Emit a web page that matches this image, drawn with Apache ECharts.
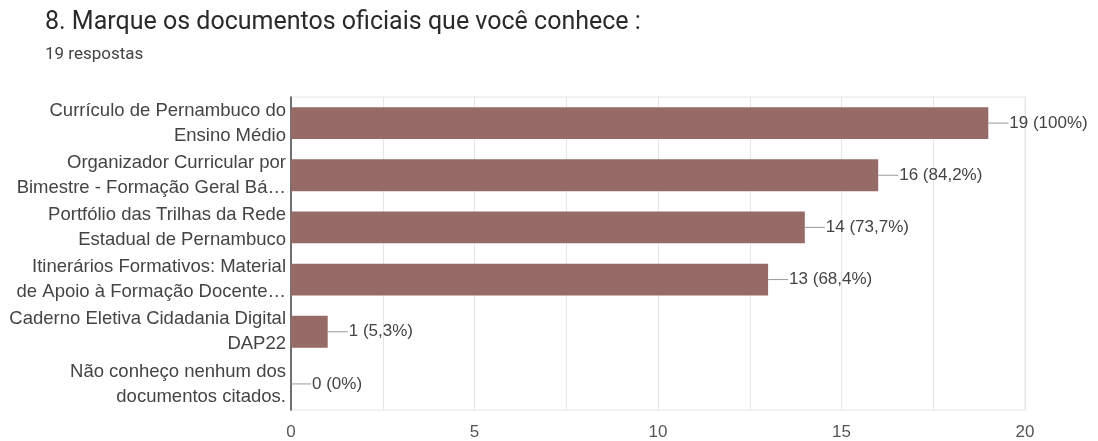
<!DOCTYPE html>
<html>
<head>
<meta charset="utf-8">
<script src="https://cdn.jsdelivr.net/npm/echarts@6/dist/echarts.min.js"></script>
<style>
html,body{margin:0;padding:0;background:#fff;}
#c{width:1098px;height:441px;}
</style>
</head>
<body>
<div id="c"></div>
<script>
const titleText = '8. Marque os documentos oficiais que você conhece :';
const subtitleText = '19 respostas';
const categories = [
  'Currículo de Pernambuco do\nEnsino Médio',
  'Organizador Curricular por\nBimestre - Formação Geral Bá…',
  'Portfólio das Trilhas da Rede\nEstadual de Pernambuco',
  'Itinerários Formativos: Material\nde Apoio à Formação Docente…',
  'Caderno Eletiva Cidadania Digital\nDAP22',
  'Não conheço nenhum dos\ndocumentos citados.'
];
const counts = [19, 16, 14, 13, 1, 0];
const percents = ['100%', '84,2%', '73,7%', '68,4%', '5,3%', '0%'];
const xTicks = [0, 5, 10, 15, 20];

const chart = echarts.init(document.getElementById('c'));
chart.setOption({
  animation: false,
  title: [
    {text: titleText, left: 40, top: 5, textStyle: {fontFamily: 'Roboto', fontSize: 25, fontWeight: 'normal', color: '#2a2a2a'}},
    {text: subtitleText, left: 40, top: 41, textStyle: {fontFamily: 'Roboto', fontSize: 17, fontWeight: 'normal', color: '#444'}}
  ],
  grid: {left: 291, right: 73, top: 97, bottom: 28, show: true, borderColor: '#e6e6e6', borderWidth: 1},
  xAxis: {
    type: 'value', min: 0, max: 20, interval: 2.5,
    axisLine: {show: false}, axisTick: {show: false},
    splitLine: {lineStyle: {color: '#e6e6e6'}},
    axisLabel: {
      fontFamily: 'Liberation Sans', fontSize: 17, color: '#555', margin: 14,
      formatter: v => xTicks.indexOf(v) >= 0 ? String(v) : ''
    }
  },
  yAxis: {
    type: 'category', data: categories, inverse: true,
    axisLine: {lineStyle: {color: '#444', width: 1.5}},
    axisTick: {show: false},
    axisLabel: {interval: 0, hideOverlap: false, fontFamily: 'Liberation Sans', fontSize: 18.5, color: '#444', lineHeight: 25, align: 'right', margin: 5, padding: [4, 0, 0, 0]}
  },
  series: [{
    type: 'bar',
    data: counts,
    barWidth: '61%',
    itemStyle: {color: '#966a67'},
    label: {
      show: true, position: 'right', distance: 0,
      formatter: p => '{l|}{t|' + counts[p.dataIndex] + ' (' + percents[p.dataIndex] + ')}',
      rich: {
        l: {width: 20, height: 1, backgroundColor: '#999'},
        t: {fontFamily: 'Liberation Sans', fontSize: 17, color: '#444', padding: [0, 0, 0, 1]}
      }
    }
  }]
});
</script>
</body>
</html>
